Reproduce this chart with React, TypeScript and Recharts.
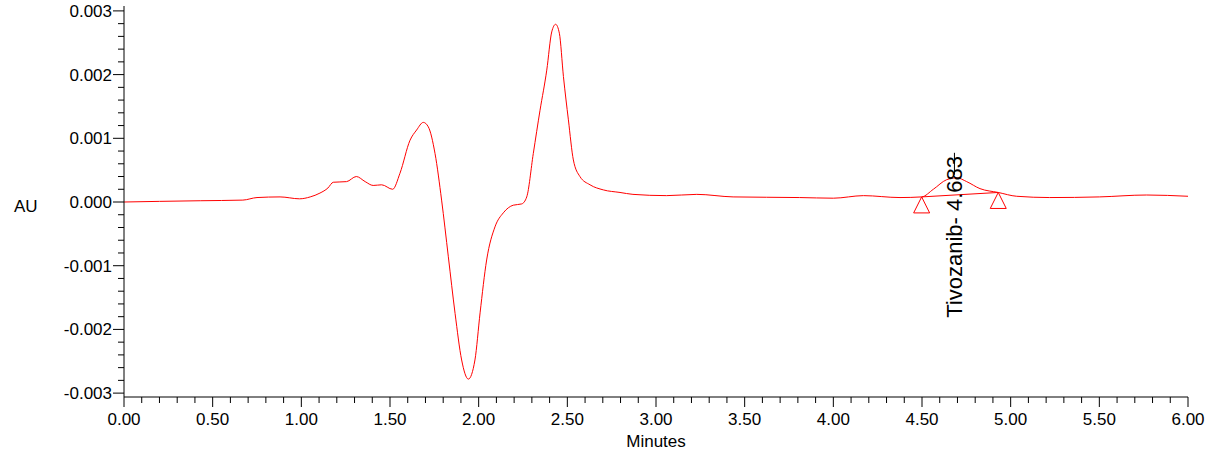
import React from "react";
import {
  ComposedChart,
  Line,
  XAxis,
  YAxis,
  ReferenceDot,
  ReferenceLine,
  Label,
} from "recharts";

// retention time (min) and absorbance (AU)
const times = [
  0.0, 0.2, 0.43, 0.67, 0.75, 0.88, 0.99, 1.05, 1.105, 1.15, 1.18, 1.255, 1.31,
  1.36, 1.405, 1.453, 1.515, 1.556, 1.613, 1.65, 1.688, 1.716, 1.754, 1.791,
  1.829, 1.867, 1.904, 1.942, 1.979, 2.008, 2.045, 2.092, 2.139, 2.195, 2.243,
  2.271, 2.308, 2.346, 2.384, 2.412, 2.434, 2.455, 2.478, 2.506, 2.534, 2.571,
  2.628, 2.703, 2.797, 2.87, 3.06, 3.23, 3.435, 3.81, 4.0, 4.17, 4.376, 4.498,
  4.564, 4.639, 4.696, 4.752, 4.827, 4.93, 5.034, 5.22, 5.5, 5.767, 6.0,
];
const absorbance = [
  0.0, 0.00001, 0.00002, 0.00003, 0.00007, 0.00008, 0.00005, 0.00008, 0.00014,
  0.00022, 0.00031, 0.00032, 0.0004, 0.00032, 0.00026, 0.00027, 0.0002,
  0.00045, 0.00097, 0.00113, 0.00125, 0.00118, 0.00076, 0.00003, -0.00086,
  -0.00175, -0.00248, -0.00278, -0.00248, -0.00174, -0.00091, -0.00039,
  -0.00017, -0.00005, -0.00003, 0.00008, 0.00076, 0.00144, 0.00207, 0.00267,
  0.00279, 0.00265, 0.00197, 0.00129, 0.00066, 0.0004, 0.00027, 0.00019,
  0.00015, 0.00012, 0.0001, 0.00012, 0.00008, 0.00007, 0.00006, 0.0001,
  0.00007, 0.00008, 0.0002, 0.00035, 0.00038, 0.00032, 0.00021, 0.00015,
  0.00009, 0.00007, 0.00008, 0.00011, 0.00009,
];

// peak integration markers
const markerTimes = [4.498, 4.93];
const markerValues = [0.00008, 0.00015];
const peakName = "Tivozanib- 4.683";
const peakTime = 4.683;
const peakApex = 0.00038;

const xTicks = Array.from({ length: 61 }, (_, i) => i / 10);
const yTicks = Array.from({ length: 31 }, (_, i) => (-30 + i * 2) / 10000);

const chartData = times.map((t, i) => ({ time: t, au: absorbance[i] }));

const FONT = "'Liberation Sans', Arial, sans-serif";

const isMajor = (v: number, step: number) =>
  Math.abs(v / step - Math.round(v / step)) < 1e-6;

function YTick(props: any) {
  const { x, y, payload } = props;
  const major = isMajor(payload.value, 0.001);
  const len = major ? 11 : 6;
  return (
    <g>
      <line x1={x - len} x2={x} y1={y} y2={y} stroke="#000" strokeWidth={1} />
      {major && (
        <text
          x={x - len - 1}
          y={y}
          dy={6}
          textAnchor="end"
          fontSize={17}
          fontFamily={FONT}
          fill="#000"
        >
          {Number(payload.value).toFixed(3)}
        </text>
      )}
    </g>
  );
}

function XTick(props: any) {
  const { x, y, payload } = props;
  const major = isMajor(payload.value, 0.5);
  const len = major ? 10 : 6;
  return (
    <g>
      <line x1={x} x2={x} y1={y} y2={y + len} stroke="#000" strokeWidth={1} />
      {major && (
        <text
          x={x}
          y={y + 28}
          textAnchor="middle"
          fontSize={17}
          fontFamily={FONT}
          fill="#000"
        >
          {Number(payload.value).toFixed(2)}
        </text>
      )}
    </g>
  );
}

const triangle = (p: any) => (
  <path
    d={`M${p.cx},${p.cy} L${p.cx - 8},${p.cy + 16} L${p.cx + 8},${p.cy + 16} Z`}
    fill="none"
    stroke="#ff0000"
    strokeWidth={1}
  />
);

const peakLabel = (p: any) => (
  <g>
    <line x1={p.cx} x2={p.cx} y1={p.cy - 25} y2={p.cy - 3} stroke="#000" strokeWidth={1} />
    <text
      transform={`translate(${p.cx + 8},${p.cy + 140}) rotate(-90)`}
      fontSize={22}
      fontFamily={FONT}
      fill="#000"
    >
      {peakName}
    </text>
  </g>
);

export default function App() {
  const domainY: [number, number] = [-0.003061, 0.003077];
  return (
    <div style={{ position: "absolute", left: 0, top: 0, background: "#fff" }}>
      <ComposedChart
        width={1215}
        height={456}
        data={chartData}
        margin={{ top: 6, right: 27, bottom: 0, left: 0 }}
      >
        <XAxis
          dataKey="time"
          type="number"
          domain={[0, 6]}
          ticks={xTicks}
          interval={0}
          tickSize={0}
          tickMargin={0}
          tick={XTick}
          tickLine={false}
          height={59}
          axisLine={{ stroke: "#000", strokeWidth: 1 }}
          allowDataOverflow
        >
          <Label
            value="Minutes"
            position="insideBottom"
            offset={9}
            style={{ fontSize: 17, fontFamily: FONT, fill: "#000" }}
          />
        </XAxis>
        <XAxis
          xAxisId="top"
          orientation="top"
          type="number"
          domain={[0, 6]}
          height={0}
          tick={false}
          tickLine={false}
          axisLine={{ stroke: "#000", strokeWidth: 1 }}
        />
        <YAxis
          type="number"
          domain={domainY}
          ticks={yTicks}
          interval={0}
          tickSize={0}
          tickMargin={0}
          tick={YTick}
          tickLine={false}
          width={124}
          axisLine={{ stroke: "#000", strokeWidth: 1 }}
          allowDataOverflow
        >
          <Label
            value="AU"
            position="insideLeft"
            offset={14}
            dy={4}
            style={{ fontSize: 17, fontFamily: FONT, fill: "#000" }}
          />
        </YAxis>
        <YAxis
          yAxisId="right"
          orientation="right"
          type="number"
          domain={domainY}
          width={0}
          tick={false}
          tickLine={false}
          axisLine={{ stroke: "#000", strokeWidth: 1 }}
        />
        <Line
          type="monotone"
          dataKey="au"
          stroke="#ff0000"
          strokeWidth={1}
          dot={false}
          isAnimationActive={false}
        />
        <ReferenceLine
          segment={[
            { x: markerTimes[0], y: markerValues[0] },
            { x: markerTimes[1], y: markerValues[1] },
          ]}
          stroke="#ff0000"
          strokeWidth={1}
        />
        {markerTimes.map((t, i) => (
          <ReferenceDot key={t} x={t} y={markerValues[i]} shape={triangle} />
        ))}
        <ReferenceDot x={peakTime} y={peakApex} shape={peakLabel} />
      </ComposedChart>
    </div>
  );
}
